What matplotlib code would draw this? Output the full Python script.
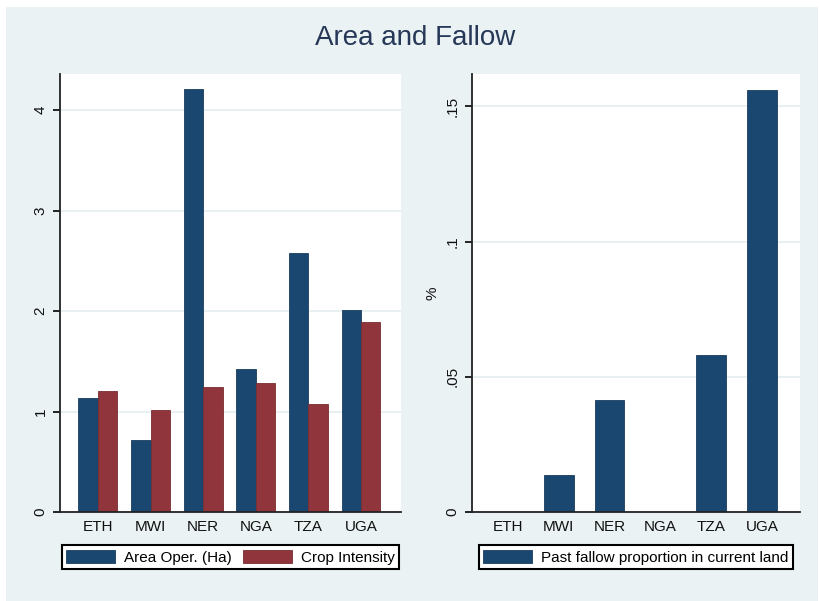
import numpy as np
import matplotlib
matplotlib.use('Agg')
import matplotlib.pyplot as plt
from matplotlib.patches import Rectangle

# datos
paises = ['ETH', 'MWI', 'NER', 'NGA', 'TZA', 'UGA']
area_oper = [1.13, 0.72, 4.21, 1.42, 2.58, 2.01]
crop_intensity = [1.20, 1.02, 1.24, 1.28, 1.08, 1.89]
fallow_prop = [0.0, 0.0138, 0.0416, 0.0, 0.0582, 0.1561]

ticks_izq = [0, 1, 2, 3, 4]
ticks_der = [0, 0.05, 0.1, 0.15]
labels_der = ['0', '.05', '.1', '.15']

azul = '#1A476F'
rojo = '#90353B'
fondo = '#EAF2F3'
grid_col = '#E4EDF0'

plt.rcParams['font.family'] = ['Liberation Sans', 'DejaVu Sans']

fig = plt.figure(figsize=(8.2, 6.01), dpi=100, facecolor='white')
fig.patches.append(Rectangle((6 / 820, 0), 812 / 820, 594 / 601, transform=fig.transFigure,
                             facecolor=fondo, edgecolor='none', zorder=-10))

fig.text(415 / 820, 1 - 38 / 601, 'Area and Fallow', ha='center', va='center',
         fontsize=20, color='#263757')

ax1 = fig.add_axes([60 / 820, 89 / 601, 341 / 820, 438 / 601])
ax2 = fig.add_axes([472 / 820, 89 / 601, 328 / 820, 438 / 601])

x = np.arange(len(paises))


def estilo(ax):
    ax.set_facecolor('white')
    for s in ['top', 'right']:
        ax.spines[s].set_visible(False)
    for s in ['left', 'bottom']:
        ax.spines[s].set_color('#222222')
        ax.spines[s].set_linewidth(1.3)
    ax.yaxis.grid(True, color=grid_col, linewidth=1.2)
    ax.set_axisbelow(True)
    ax.tick_params(axis='x', length=0, labelsize=11, pad=6, labelcolor='#111111')
    ax.tick_params(axis='y', length=5, width=1.2, labelsize=11, labelrotation=90, pad=4,
                   labelcolor='#111111')
    for lab in ax.get_yticklabels():
        lab.set_va('center')


w1 = 0.37
ax1.bar(x - w1 / 2, area_oper, w1, color=azul, edgecolor='#173d60', linewidth=0.6, label='Area Oper. (Ha)')
ax1.bar(x + w1 / 2, crop_intensity, w1, color=rojo, edgecolor='#7a2c31', linewidth=0.6, label='Crop Intensity')
ax1.set_xlim(-0.72, 5.76)
ax1.set_ylim(0, 4.36)
ax1.set_yticks(ticks_izq)
ax1.set_xticks(x)
ax1.set_xticklabels(paises)
estilo(ax1)

w2 = 0.58
ax2.bar(x, fallow_prop, w2, color=azul, edgecolor='#173d60', linewidth=0.6,
        label='Past fallow proportion in current land')
ax2.set_xlim(-0.71, 5.75)
ax2.set_ylim(0, 0.162)
ax2.set_yticks(ticks_der)
ax2.set_yticklabels(labels_der)
ax2.set_xticks(x)
ax2.set_xticklabels(paises)
ax2.set_ylabel('%', fontsize=11, labelpad=4, color='#111111')
estilo(ax2)

for ax in [ax1, ax2]:
    leg = ax.legend(loc='center', bbox_to_anchor=(0.5, -0.103), ncol=2, fontsize=11,
                    handlelength=3.2, handleheight=1.0, handletextpad=0.6, columnspacing=0.7,
                    borderpad=0.3, borderaxespad=0, fancybox=False, framealpha=1, edgecolor='black')
    leg.get_frame().set_linewidth(1.5)

fig.savefig('out.png', dpi=100, facecolor=fig.get_facecolor())
